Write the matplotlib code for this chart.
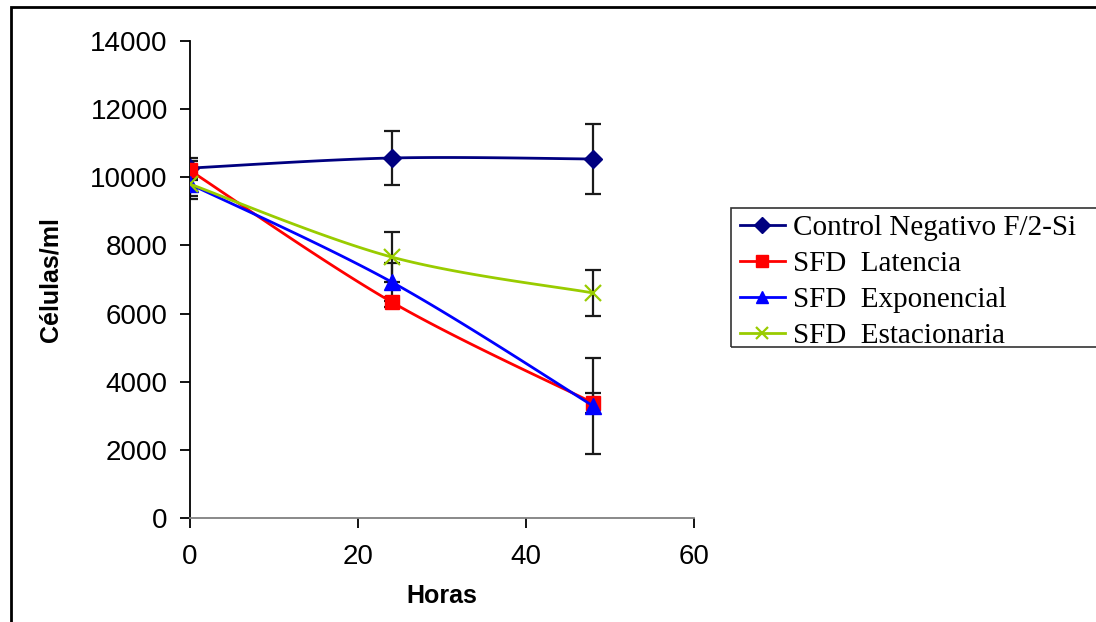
import numpy as np
import matplotlib
matplotlib.use("Agg")
import matplotlib.pyplot as plt
from matplotlib.patches import Rectangle
from matplotlib.lines import Line2D

# ---- data ----
horas = [0, 24, 48]
control = [10270, 10566, 10537]
control_err = [300, 800, 1030]
latencia = [10200, 6340, 3375]
latencia_err = [265, 150, 300]
exponencial = [9800, 6927, 3287]
exponencial_err = [350, 550, 1400]
estacionaria = [9800, 7660, 6604]
estacionaria_err = [440, 740, 670]

labels = ["Control Negativo F/2-Si", "SFD  Latencia", "SFD  Exponencial", "SFD  Estacionaria"]
x_ticks = [0, 20, 40, 60]
y_ticks = [0, 2000, 4000, 6000, 8000, 10000, 12000, 14000]

W, H = 1096, 622
fig = plt.figure(figsize=(W / 100, H / 100), dpi=100)
ax = fig.add_axes([190 / W, (H - 518) / H, (694 - 190) / W, (518 - 41) / H])


def smooth(xs, ys, n=40):
    """Bezier smoothing (Excel smoothed line) through the data points."""
    xs = np.asarray(xs, float)
    ys = np.asarray(ys, float)
    px = np.concatenate([[xs[0]], xs, [xs[-1]]])
    py = np.concatenate([[ys[0]], ys, [ys[-1]]])
    outx, outy = [], []
    for i in range(1, len(px) - 2):
        p0 = np.array([px[i - 1], py[i - 1]])
        p1 = np.array([px[i], py[i]])
        p2 = np.array([px[i + 1], py[i + 1]])
        p3 = np.array([px[i + 2], py[i + 2]])
        c1 = p1 + (p2 - p0) / 6
        c2 = p2 - (p3 - p1) / 6
        t = np.linspace(0, 1, n)[:, None]
        pts = ((1 - t) ** 3) * p1 + 3 * ((1 - t) ** 2) * t * c1 + 3 * (1 - t) * t ** 2 * c2 + t ** 3 * p2
        outx.extend(pts[:, 0]); outy.extend(pts[:, 1])
    return outx, outy


series = [
    (control, control_err, "#000080", "D", 9),
    (latencia, latencia_err, "#FF0000", "s", 10),
    (exponencial, exponencial_err, "#0000FF", "^", 11),
    (estacionaria, estacionaria_err, "#99CC00", "x", 11),
]

handles = []
for ys, err, col, mk, ms in series:
    ax.errorbar(horas, ys, yerr=err, fmt="none", ecolor="#1a1a1a", elinewidth=1.6,
                capsize=6, capthick=1.6, zorder=2)
for i, (ys, err, col, mk, ms) in enumerate(series):
    sx, sy = smooth(horas, ys)
    ax.plot(sx, sy, color=col, lw=2, zorder=3 + i, solid_capstyle="butt")
    ax.plot(horas, ys, linestyle="none", marker=mk, markersize=ms, color=col,
            markeredgewidth=1.6 if mk == "x" else 1, zorder=3 + i + 0.5)
    handles.append(Line2D([0], [0], color=col, lw=2, marker=mk, markersize=ms * 0.85,
                          markeredgewidth=1.6 if mk == "x" else 1))

ax.set_xlim(0, 60)
ax.set_ylim(0, 14000)
ax.set_xticks(x_ticks)
ax.set_yticks(y_ticks)
for s in ["top", "right"]:
    ax.spines[s].set_visible(False)
ax.spines["left"].set_color("black")
ax.spines["bottom"].set_color("#808080")
ax.spines["left"].set_linewidth(1.3)
ax.spines["bottom"].set_linewidth(1.3)
ax.tick_params(axis="both", direction="out", length=7, width=1.3, color="black",
               labelsize=20)
ax.tick_params(axis="x", pad=12)
ax.tick_params(axis="y", pad=9)
for lab in ax.get_xticklabels() + ax.get_yticklabels():
    lab.set_fontfamily("Liberation Sans")

ax.set_xlabel("Horas", fontsize=18, fontweight="bold", family="Liberation Sans", labelpad=10)
ax.set_ylabel("Células/ml", fontsize=18, fontweight="bold", family="Liberation Sans", labelpad=20)

leg = fig.legend(handles, labels, loc="upper left",
                 bbox_to_anchor=(736 / W, 1 - 211 / H),
                 frameon=False, prop={"family": "Liberation Serif", "size": 21},
                 handlelength=1.55, handletextpad=0.3, labelspacing=0.33,
                 borderaxespad=0, borderpad=0.12)
# legend box (extends past right edge as in reference)
fig.patches.append(Rectangle((731 / W, 1 - 347 / H), (1110 - 731) / W, (347 - 208) / H,
                             transform=fig.transFigure, fill=False, edgecolor="#333333",
                             lw=1.2, zorder=1))
# outer chart border
fig.patches.append(Rectangle((11 / W, -10 / H), (1110 - 11) / W, (622 + 10 - 7) / H,
                             transform=fig.transFigure, fill=False, edgecolor="black",
                             lw=2, zorder=1))

fig.savefig("out.png", dpi=100)
